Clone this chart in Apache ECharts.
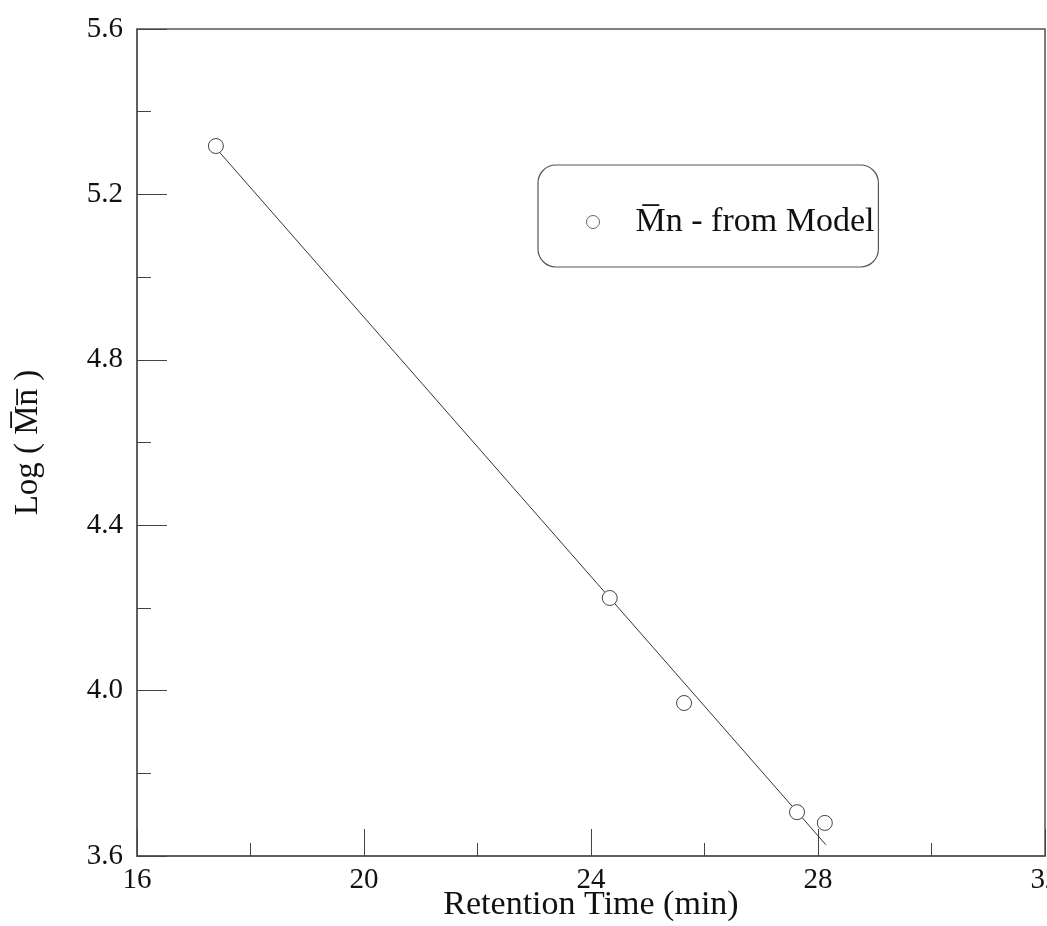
<!DOCTYPE html>
<html>
<head>
<meta charset="utf-8">
<script src="https://cdn.jsdelivr.net/npm/echarts@6/dist/echarts.min.js"></script>
<style>
html,body{margin:0;padding:0;background:#fff;}
#c{width:1047px;height:926px;}
</style>
</head>
<body>
<div id="c"></div>
<script>
// Data
const retentionTime = [17.39, 24.33, 25.64, 27.63, 28.12];
const logMn = [5.317, 4.224, 3.970, 3.706, 3.680];
const fitX = [17.39, 28.14];
const fitY = [5.312, 3.627];
const xTickLabels = [16, 20, 24, 28, 32];
const yTickLabels = [3.6, 4.0, 4.4, 4.8, 5.2, 5.6];

const serif = '"Liberation Serif", "Times New Roman", Times, serif';
const chart = echarts.init(document.getElementById('c'), null, {renderer: 'canvas'});

const option = {
  backgroundColor: '#fff',
  animation: false,
  grid: {
    left: 137, right: 2, top: 29, bottom: 70,
    containLabel: false,
    outerBoundsMode: 'none',
    show: true, borderColor: '#555', borderWidth: 1.5, backgroundColor: 'transparent'
  },
  legend: {
    data: ['M\u0305n - from Model'],
    left: 538, top: 165,
    orient: 'vertical',
    padding: [40, 4, 28, 48],
    borderColor: '#555', borderWidth: 1.2, borderRadius: 18,
    itemWidth: 13, itemHeight: 13,
    itemStyle: {color: '#fff', borderColor: '#666', borderWidth: 1},
    textStyle: {fontFamily: serif, fontSize: 34, color: '#111', padding: [0, 0, 0, 31]}
  },
  xAxis: {
    type: 'value',
    min: xTickLabels[0], max: xTickLabels[xTickLabels.length - 1], interval: 4,
    name: 'Retention Time (min)',
    nameLocation: 'middle', nameGap: 32,
    nameMoveOverlap: false,
    nameTextStyle: {fontFamily: serif, fontSize: 34, color: '#111'},
    axisLine: {show: true, lineStyle: {color: '#555', width: 1.5}},
    axisTick: {show: true, inside: true, length: 27, lineStyle: {color: '#444', width: 1}},
    minorTick: {show: true, splitNumber: 2, length: 13, lineStyle: {color: '#444', width: 1}},
    axisLabel: {
      fontFamily: serif, fontSize: 29, color: '#111', margin: 10,
      formatter: v => xTickLabels.indexOf(Math.round(v)) >= 0 ? String(Math.round(v)) : ''
    },
    splitLine: {show: false}
  },
  yAxis: {
    type: 'value',
    min: yTickLabels[0], max: yTickLabels[yTickLabels.length - 1], interval: 0.4,
    name: 'Log ( M\u0305n\u0305 )',
    nameLocation: 'middle', nameGap: 92, nameRotate: 90,
    nameMoveOverlap: false,
    nameTextStyle: {fontFamily: serif, fontSize: 33, color: '#111'},
    axisLine: {show: true, lineStyle: {color: '#555', width: 1.5}},
    axisTick: {show: true, inside: true, length: 30, lineStyle: {color: '#444', width: 1}},
    minorTick: {show: true, splitNumber: 2, length: 14, lineStyle: {color: '#444', width: 1}},
    axisLabel: {
      fontFamily: serif, fontSize: 29, color: '#111', margin: 14,
      formatter: v => v.toFixed(1)
    },
    splitLine: {show: false}
  },
  series: [
    {
      name: 'fit',
      type: 'line',
      data: fitX.map((x, i) => [x, fitY[i]]),
      showSymbol: false,
      lineStyle: {color: '#333', width: 1},
      z: 2
    },
    {
      name: 'M\u0305n - from Model',
      type: 'scatter',
      data: retentionTime.map((x, i) => [x, logMn[i]]),
      symbol: 'circle',
      symbolSize: 15,
      itemStyle: {color: '#ffffff', borderColor: '#444', borderWidth: 1, opacity: 1},
      z: 3
    }
  ]
};
chart.setOption(option);
</script>
</body>
</html>
